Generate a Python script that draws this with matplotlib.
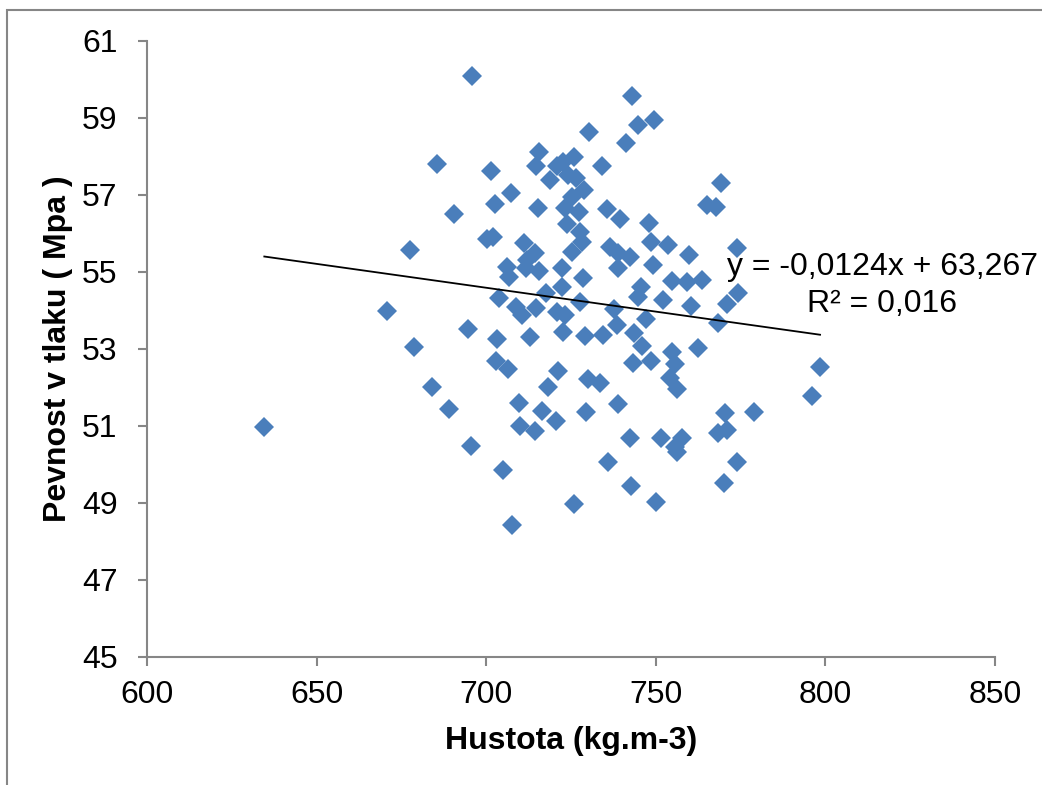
import numpy as np
import matplotlib
matplotlib.use('Agg')
import matplotlib.pyplot as plt
from matplotlib.patches import Rectangle

plt.rcParams['font.family'] = ['Liberation Sans', 'DejaVu Sans']

# hustota (kg.m-3) a pevnost v tlaku (MPa)
hustota = [
    695.7, 685.5, 701.3, 690.3, 702.6, 700.1, 701.9, 677.4, 670.8, 703.7,
    634.5, 678.7, 694.7, 703.1, 702.9, 684.0, 689.1, 695.4, 704.8, 707.5,
    742.9, 744.8, 749.3, 730.3, 741.2, 715.6, 714.6, 720.8, 722.7, 725.7,
    718.8, 724.2, 726.5, 734.0, 707.2, 715.2, 728.9, 725.2, 723.2, 727.4,
    723.7, 735.5, 739.4, 769.2, 765.0, 767.8, 748.1, 727.6, 728.1, 725.2,
    711.1, 714.4, 711.9, 706.0, 706.8, 711.7, 715.6, 722.2, 728.4, 722.2,
    717.7, 736.5, 738.9, 742.4, 738.9, 748.6, 753.5, 759.8, 749.1, 773.8,
    754.7, 759.1, 763.5, 745.5, 744.7, 752.1, 774.3, 770.9, 708.8, 714.5,
    727.7, 737.7, 760.2, 710.4, 720.8, 723.2, 722.5, 738.5, 747.1, 768.4,
    712.9, 729.1, 734.5, 743.6, 745.8, 706.5, 721.2, 743.2, 748.5, 754.7,
    755.7, 762.5, 754.2, 756.2, 718.1, 729.9, 733.5, 709.7, 716.5, 720.6,
    709.9, 714.4, 729.4, 738.8, 742.4, 751.4, 757.6, 755.7, 756.2, 770.4,
    768.4, 770.9, 778.8, 773.9, 770.1, 736.0, 742.6, 750.0, 725.9, 798.4,
    796.1,
]
pevnost = [
    60.10, 57.80, 57.62, 56.51, 56.76, 55.85, 55.91, 55.56, 53.99, 54.32,
    50.98, 53.04, 53.51, 53.25, 52.68, 52.00, 51.44, 50.48, 49.85, 48.41,
    59.57, 58.82, 58.95, 58.64, 58.34, 58.12, 57.75, 57.75, 57.86, 57.99,
    57.39, 57.52, 57.43, 57.75, 57.04, 56.67, 57.13, 56.95, 56.65, 56.55,
    56.24, 56.63, 56.37, 57.31, 56.74, 56.69, 56.28, 56.04, 55.78, 55.52,
    55.74, 55.50, 55.31, 55.13, 54.86, 55.09, 55.03, 55.09, 54.83, 54.61,
    54.45, 55.65, 55.48, 55.39, 55.09, 55.78, 55.70, 55.44, 55.18, 55.62,
    54.77, 54.74, 54.79, 54.61, 54.36, 54.26, 54.46, 54.17, 54.10, 54.05,
    54.23, 54.04, 54.11, 53.88, 53.97, 53.88, 53.45, 53.62, 53.77, 53.66,
    53.30, 53.33, 53.36, 53.40, 53.07, 52.47, 52.43, 52.64, 52.69, 52.93,
    52.61, 53.01, 52.23, 51.95, 52.02, 52.21, 52.12, 51.60, 51.39, 51.13,
    51.00, 50.87, 51.36, 51.56, 50.69, 50.69, 50.68, 50.46, 50.33, 51.33,
    50.81, 50.89, 51.35, 50.05, 49.52, 50.05, 49.44, 49.03, 48.97, 52.52,
    51.78,
]

# linearni trend podle rovnice v grafu
slope = -0.0124
intercept = 63.267
r2_text = 'R² = 0,016'
eq_text = 'y = -0,0124x + 63,267'

grey = '#868686'

fig = plt.figure(figsize=(10.42, 7.85), dpi=100)
ax = fig.add_axes([0.1414, 0.1634, 0.8135, 0.7844])

ax.plot(hustota, pevnost, linestyle='none', marker='D', markersize=10.2,
        color='#4A7EBB', markeredgewidth=0, zorder=2)

xt = np.array([min(hustota), max(hustota)])
ax.plot(xt, slope * xt + intercept, color='black', linewidth=1.3, zorder=3)

ax.text(816.7, 54.92, eq_text, ha='center', va='baseline', fontsize=23, clip_on=False)
ax.text(816.7, 53.97, r2_text, ha='center', va='baseline', fontsize=23, clip_on=False)

ax.set_xlim(600, 850)
ax.set_ylim(45, 61)
ax.set_xticks(np.arange(600, 851, 50))
ax.set_yticks(np.arange(45, 62, 2))

for side in ['top', 'right']:
    ax.spines[side].set_visible(False)
for side in ['left', 'bottom']:
    ax.spines[side].set_color(grey)
    ax.spines[side].set_linewidth(1.5)

ax.tick_params(axis='both', direction='out', length=6.5, width=1.5, color=grey,
               labelsize=23, labelcolor='black')
ax.tick_params(axis='x', pad=10)
ax.tick_params(axis='y', pad=15)

ax.set_xlabel('Hustota (kg.m-3)', fontsize=23, fontweight='bold')
ax.set_ylabel('Pevnost v tlaku ( Mpa )', fontsize=23, fontweight='bold')
ax.xaxis.set_label_coords(0.5, -0.112)
ax.yaxis.set_label_coords(-0.088, 0.5)

# ramecek grafu
fig.patches.append(Rectangle((7 / 1042, -0.2), 1.2, 0.2 + 1 - 10 / 785,
                             transform=fig.transFigure, fill=False,
                             edgecolor=grey, linewidth=1.5))

fig.savefig('out.png', dpi=100)
